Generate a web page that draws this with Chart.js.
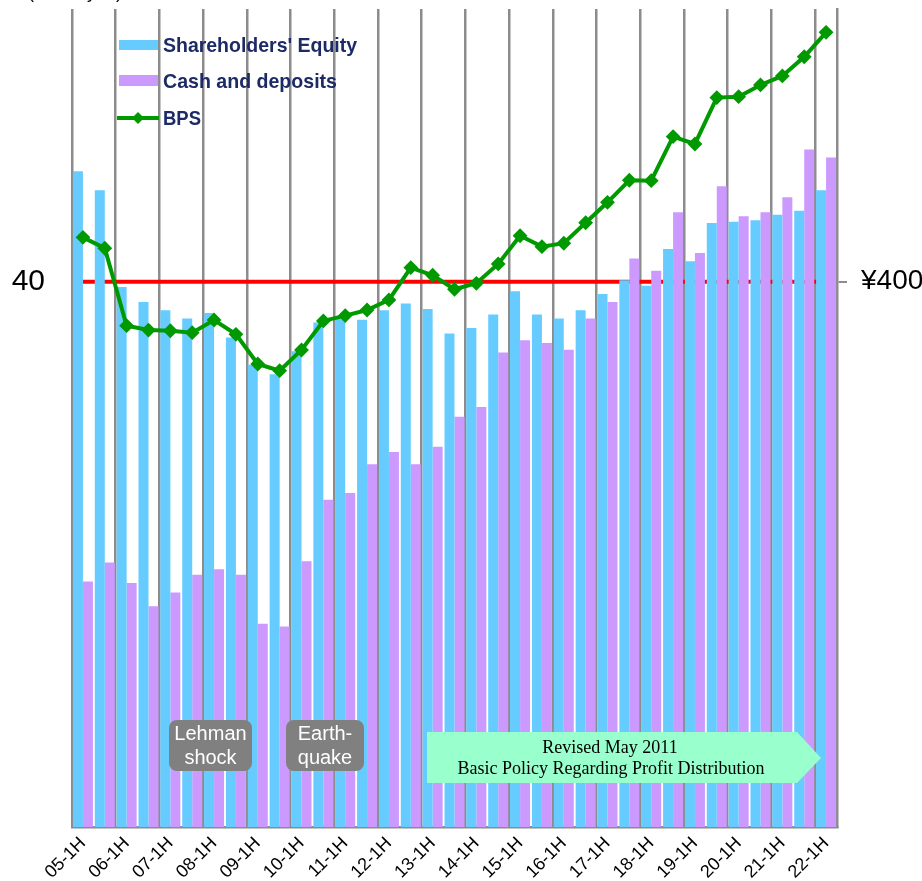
<!DOCTYPE html>
<html>
<head>
<meta charset="utf-8">
<script src="https://cdn.jsdelivr.net/npm/chart.js@4/dist/chart.umd.min.js"></script>
<style>
  html, body { margin: 0; padding: 0; background: #fff; }
  #wrap { width: 922px; height: 881px; }
</style>
</head>
<body>
<div id="wrap"><canvas id="chart" width="922" height="881"></canvas></div>
<script>
// periods (half years), label shown only on 1H
const periods = [
  '05-1H', '05-2H', '06-1H', '06-2H', '07-1H', '07-2H', '08-1H', '08-2H',
  '09-1H', '09-2H', '10-1H', '10-2H', '11-1H', '11-2H', '12-1H', '12-2H',
  '13-1H', '13-2H', '14-1H', '14-2H', '15-1H', '15-2H', '16-1H', '16-2H',
  '17-1H', '17-2H', '18-1H', '18-2H', '19-1H', '19-2H', '20-1H', '20-2H',
  '21-1H', '21-2H', '22-1H'
];

// left axis (billion yen)
const equity = [
  48.1, 46.7, 39.6, 38.5, 37.9, 37.3, 37.7, 35.9, 33.9, 33.2, 34.9, 37.0,
  37.3, 37.2, 37.9, 38.4, 38.0, 36.2, 36.6, 37.6, 39.3, 37.6, 37.3, 37.9,
  39.1, 40.1, 39.7, 42.4, 41.5, 44.3, 44.4, 44.5, 44.9, 45.2, 46.7
];
const cashDeposits = [
  18.0, 19.4, 17.9, 16.2, 17.2, 18.5, 18.9, 18.5, 14.9, 14.7, 19.5, 24.0,
  24.5, 26.6, 27.5, 26.6, 27.9, 30.1, 30.8, 34.8, 35.7, 35.5, 35.0, 37.3,
  38.5, 41.7, 40.8, 45.1, 42.1, 47.0, 44.8, 45.1, 46.2, 49.7, 49.1
];

// right axis (yen)
const bps = [
  432.5, 424.5, 367.7, 364.5, 364.0, 362.6, 371.9, 361.4, 339.6, 334.7,
  349.9, 371.2, 375.1, 379.2, 386.6, 410.3, 404.7, 394.4, 398.8, 413.0,
  433.7, 425.7, 428.2, 443.2, 458.2, 474.4, 474.1, 506.4, 501.0, 535.0,
  535.7, 544.3, 550.9, 565.0, 582.9
];

const refLevel = 40;
const leftTicks = [40];
const rightTicks = [400];

const BLUE = '#66ccff';
const PURPLE = '#cc99ff';
const GREEN = '#009900';
const GRID = '#8c8c8c';
const NAVY = '#1c2a66';

// legend, notes and banner drawn on top
const overlay = {
  id: 'overlay',
  afterDraw(chart) {
    const ctx = chart.ctx;
    ctx.save();

    // cut-off unit text at the very top
    ctx.fillStyle = '#000';
    ctx.font = '18px "Liberation Sans"';
    ctx.textAlign = 'right';
    ctx.textBaseline = 'alphabetic';
    ctx.fillText('(Billion yen)', 122, -2);

    // legend
    ctx.textAlign = 'left';
    ctx.textBaseline = 'middle';
    ctx.font = 'bold 21px "Liberation Sans"';
    ctx.fillStyle = BLUE;
    ctx.fillRect(119, 40, 39, 10);
    ctx.fillStyle = PURPLE;
    ctx.fillRect(119, 75, 39, 11);
    ctx.strokeStyle = GREEN;
    ctx.lineWidth = 4;
    ctx.beginPath();
    ctx.moveTo(117, 118);
    ctx.lineTo(159, 118);
    ctx.stroke();
    ctx.fillStyle = GREEN;
    ctx.beginPath();
    ctx.moveTo(138, 112); ctx.lineTo(144, 118); ctx.lineTo(138, 124); ctx.lineTo(132, 118);
    ctx.closePath();
    ctx.fill();
    ctx.fillStyle = NAVY;
    ctx.fillText("Shareholders' Equity", 163, 46, 194);
    ctx.fillText('Cash and deposits', 163, 82, 174);
    ctx.fillText('BPS', 163, 119, 38);

    // event notes
    const note = (x, y, w, h, l1, l2) => {
      ctx.fillStyle = '#808080';
      ctx.beginPath();
      ctx.roundRect(x, y, w, h, 8);
      ctx.fill();
      ctx.fillStyle = '#fff';
      ctx.font = '20px "Liberation Sans"';
      ctx.textAlign = 'center';
      ctx.fillText(l1, x + w / 2, y + 14);
      ctx.fillText(l2, x + w / 2, y + 38);
    };
    note(169, 720, 83, 51, 'Lehman', 'shock');
    note(286, 720, 78, 51, 'Earth-', 'quake');

    // policy banner arrow
    ctx.fillStyle = '#99ffcc';
    ctx.beginPath();
    ctx.moveTo(427, 732);
    ctx.lineTo(797, 732);
    ctx.lineTo(821, 758);
    ctx.lineTo(797, 783);
    ctx.lineTo(427, 783);
    ctx.closePath();
    ctx.fill();
    ctx.fillStyle = '#000';
    ctx.font = '18px "Liberation Serif"';
    ctx.textAlign = 'center';
    ctx.fillText('Revised May 2011', 610, 748);
    ctx.fillText('Basic Policy Regarding Profit Distribution', 611, 769);

    ctx.restore();
  }
};

new Chart(document.getElementById('chart'), {
  type: 'bar',
  data: {
    labels: periods,
    datasets: [
      {
        type: 'line',
        data: periods.map(() => refLevel),
        yAxisID: 'y',
        borderColor: '#ff0000',
        borderWidth: 4,
        pointRadius: 0,
        order: 3
      },
      {
        label: "Shareholders' Equity",
        data: equity,
        yAxisID: 'y',
        backgroundColor: BLUE,
        barPercentage: 1,
        categoryPercentage: 0.915,
        order: 2
      },
      {
        label: 'Cash and deposits',
        data: cashDeposits,
        yAxisID: 'y',
        backgroundColor: PURPLE,
        barPercentage: 1,
        categoryPercentage: 0.915,
        order: 2
      },
      {
        type: 'line',
        label: 'BPS',
        data: bps,
        yAxisID: 'y2',
        borderColor: GREEN,
        borderWidth: 4,
        tension: 0,
        pointStyle: 'rectRot',
        pointRadius: 6,
        pointBorderWidth: 2,
        pointBackgroundColor: GREEN,
        pointBorderColor: GREEN,
        order: 0
      }
    ]
  },
  options: {
    responsive: false,
    animation: false,
    layout: { padding: { top: 9, left: 0, right: 0, bottom: 0 } },
    plugins: {
      legend: { display: false },
      tooltip: { enabled: false }
    },
    scales: {
      x: {
        afterFit: s => { s.height = 54; s.paddingLeft = 0; s.paddingRight = 0; },
        grid: {
          offset: true,
          drawTicks: false,
          lineWidth: 2.5,
          color: ctx => (ctx.index % 2 === 0 ? GRID : 'rgba(0,0,0,0)')
        },
        border: { display: true, color: GRID, width: 2.5 },
        ticks: {
          autoSkip: false,
          maxRotation: 45,
          minRotation: 45,
          padding: 6,
          color: '#000',
          font: { family: 'Liberation Sans', size: 18 },
          callback: (v, i) => (i % 2 === 0 ? periods[i] : '')
        }
      },
      y: {
        position: 'left',
        min: 0,
        max: 60,
        afterFit: s => { s.width = 72; s.paddingTop = 0; s.paddingBottom = 0; },
        afterBuildTicks: s => { s.ticks = leftTicks.map(v => ({ value: v })); },
        grid: { display: false, drawTicks: false },
        border: { display: false },
        ticks: {
          padding: 27,
          color: '#000',
          font: { family: 'Liberation Sans', size: 30 }
        }
      },
      y2: {
        position: 'right',
        min: 0,
        max: 600,
        afterFit: s => { s.width = 85; s.paddingTop = 0; s.paddingBottom = 0; },
        afterBuildTicks: s => { s.ticks = rightTicks.map(v => ({ value: v })); },
        grid: { drawOnChartArea: false, drawTicks: true, tickLength: 10, color: GRID, lineWidth: 2 },
        border: { display: true, color: GRID, width: 2.5 },
        ticks: {
          padding: 14,
          color: '#000',
          font: { family: 'Liberation Sans', size: 28 },
          callback: v => '¥' + v
        }
      }
    }
  },
  plugins: [overlay]
});
</script>
</body>
</html>
